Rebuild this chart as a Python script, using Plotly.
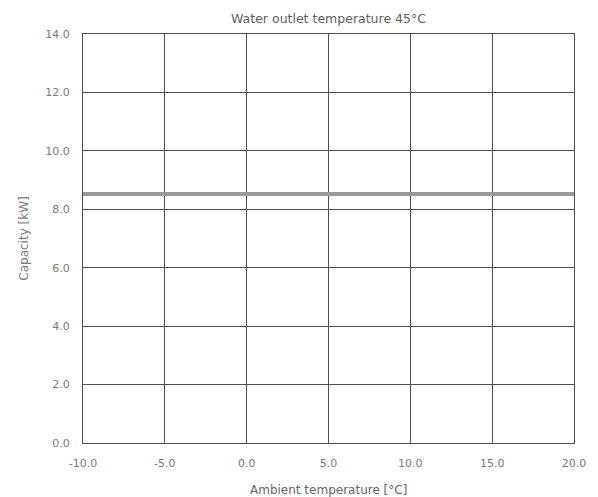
import plotly.graph_objects as go

ambient_temp = [-10.0, 20.0]
capacity_kw = [8.52, 8.52]
x_ticks = [-10, -5, 0, 5, 10, 15, 20]
x_tick_labels = ["-10.0", "-5.0", "0.0", "5.0", "10.0", "15.0", "20.0"]
y_ticks = [0, 2, 4, 6, 8, 10, 12, 14]
y_tick_labels = ["0.0", "2.0", "4.0", "6.0", "8.0", "10.0", "12.0", "14.0"]
x_title = "Ambient temperature [°C]"
y_title = "Capacity [kW]"
chart_title = "Water outlet temperature 45°C"

FAM = "DejaVu Sans, Open Sans, sans-serif"
fig = go.Figure()
fig.add_trace(go.Scatter(
    x=ambient_temp, y=capacity_kw, mode="lines",
    line=dict(color="#9a9a9a", width=4), showlegend=False,
))

fig.update_layout(
    width=590, height=489,
    margin=dict(l=75, r=20, t=26, b=54),
    paper_bgcolor="white", plot_bgcolor="white",
    font=dict(family=FAM, size=11, color="#7a7a7a"),
    title=dict(text=chart_title, x=0.5, xref="paper", xanchor="center",
               y=1, yref="paper", yanchor="bottom", pad=dict(b=11),
               font=dict(family=FAM, size=12.5, color="#606060")),
)
fig.add_annotation(
    text=x_title, x=0.5, y=0, xref="paper", yref="paper",
    xanchor="center", yanchor="middle", yshift=-47, showarrow=False,
    font=dict(family=FAM, size=12, color="#666666"),
)
fig.update_xaxes(
    range=[-10, 20], tickvals=x_ticks, ticktext=x_tick_labels,
    showgrid=True, gridcolor="#505050", gridwidth=1,
    showline=True, linecolor="#505050", linewidth=1, mirror=True,
    zeroline=False, ticks="", ticklabelstandoff=10,
    tickfont=dict(size=11, color="#7a7a7a"),
)
fig.update_yaxes(
    range=[0, 14], tickvals=y_ticks, ticktext=y_tick_labels,
    showgrid=True, gridcolor="#505050", gridwidth=1,
    showline=True, linecolor="#505050", linewidth=1, mirror=True,
    zeroline=False, ticks="", ticklabelstandoff=10,
    tickfont=dict(size=11, color="#7a7a7a"),
    title=dict(text=y_title, standoff=14,
               font=dict(size=12, color="#7a7a7a")),
)

fig.write_html("out.html")
